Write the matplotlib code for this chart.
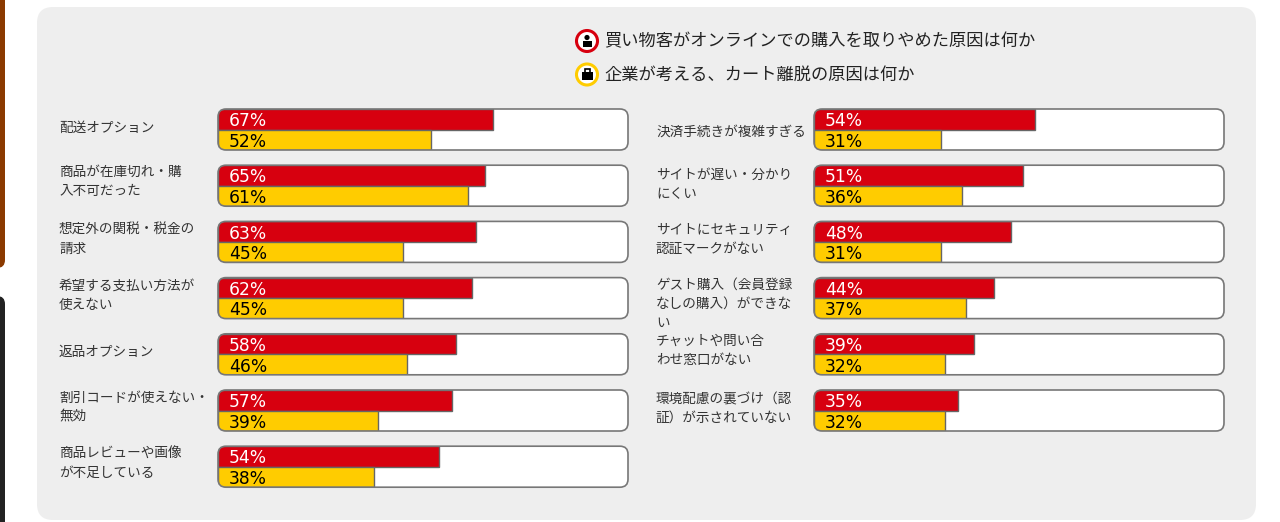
import matplotlib
matplotlib.use("Agg")
import matplotlib.pyplot as plt
from matplotlib.patches import FancyBboxPatch, Circle, Rectangle

plt.rcParams['font.family'] = ['Noto Sans CJK JP', 'DejaVu Sans']

# ---- data ----
left_labels = ["配送オプション", "商品が在庫切れ・購\n入不可だった", "想定外の関税・税金の\n請求",
               "希望する支払い方法が\n使えない", "返品オプション", "割引コードが使えない・\n無効",
               "商品レビューや画像\nが不足している"]
left_shopper = [67, 65, 63, 62, 58, 57, 54]
left_company = [52, 61, 45, 45, 46, 39, 38]

right_labels = ["決済手続きが複雑すぎる", "サイトが遅い・分かり\nにくい", "サイトにセキュリティ\n認証マークがない",
                "ゲスト購入（会員登録\nなしの購入）ができな\nい", "チャットや問い合\nわせ窓口がない",
                "環境配慮の裏づけ（認\n証）が示されていない"]
right_shopper = [54, 51, 48, 44, 39, 35]
right_company = [31, 36, 31, 37, 32, 32]

legend_labels = ["買い物客がオンラインでの購入を取りやめた原因は何か", "企業が考える、カート離脱の原因は何か"]

RED = '#D7000F'
YEL = '#FFCC00'
W, H = 1280, 522
fig = plt.figure(figsize=(W / 100, H / 100), dpi=100)
fig.patch.set_facecolor('white')

# background overlay in pixel coordinates
bg = fig.add_axes([0, 0, 1, 1], zorder=0)
bg.set_xlim(0, W)
bg.set_ylim(H, 0)
bg.axis('off')
bg.add_patch(FancyBboxPatch((37, 7), 1219, 513, boxstyle="round,pad=0,rounding_size=16",
                            facecolor='#EEEEEE', edgecolor='none'))
bg.add_patch(FancyBboxPatch((-20, -20), 25, 288, boxstyle="round,pad=0,rounding_size=8",
                            facecolor='#8B3A00', edgecolor='none'))
bg.add_patch(FancyBboxPatch((-20, 296), 25, 260, boxstyle="round,pad=0,rounding_size=8",
                            facecolor='#222222', edgecolor='none'))

# legend
for i, (lab, col) in enumerate(zip(legend_labels, [RED, YEL])):
    cy = 41 + i * 33.5
    bg.add_patch(Circle((587, cy), 10.5, facecolor='white', edgecolor=col, lw=2.2))
    if i == 0:
        bg.add_patch(Circle((587, cy - 3.5), 2.6, facecolor='black', edgecolor='none'))
        bg.add_patch(Rectangle((582.5, cy), 9, 6, facecolor='black', edgecolor='none'))
    else:
        bg.add_patch(Rectangle((581.5, cy - 2.5), 11, 8, facecolor='black', edgecolor='none'))
        bg.add_patch(Rectangle((584.5, cy - 5.5), 5, 3.5, facecolor='none', edgecolor='black', lw=1.2))
    bg.text(604, cy, lab, fontsize=12.4, color='#222222', va='center', ha='left')

# column axes
pitch = 56.2
row0_center = 129.5
top_px = row0_center - pitch / 2
nrows = 7
ax_h_px = pitch * nrows
bottom_frac = 1 - (top_px + ax_h_px) / H
h_frac = ax_h_px / H

box_h = 41 / pitch
rx = 8 / 4.1


def draw_column(x0_px, labels, shopper, company, label_x_px, label_offsets):
    ax = fig.add_axes([x0_px / W, bottom_frac, 410 / W, h_frac], zorder=1)
    ax.set_xlim(0, 100)
    ax.set_ylim(nrows - 0.5, -0.5)
    ax.axis('off')
    aspect = (410 / 100) / pitch
    for i, (lab, s, c) in enumerate(zip(labels, shopper, company)):
        top = i - box_h / 2
        fill = FancyBboxPatch((0, top), 100, box_h, boxstyle=f"round,pad=0,rounding_size={rx}",
                              mutation_aspect=aspect, facecolor='white', edgecolor='none', zorder=1)
        ax.add_patch(fill)
        bars = ax.barh([top + box_h / 4, top + 3 * box_h / 4], [s, c], height=box_h / 2,
                       left=0, color=[RED, YEL], edgecolor='#666666', linewidth=1.0, zorder=2)
        for b in bars:
            b.set_clip_path(fill)
        ax.add_patch(FancyBboxPatch((0, top), 100, box_h, boxstyle=f"round,pad=0,rounding_size={rx}",
                                    mutation_aspect=aspect, facecolor='none', edgecolor='#777777',
                                    linewidth=1.2, zorder=3, clip_on=False))
        ax.text(2.6, top + box_h / 4 + 0.035, f"{s}%", color='white', fontsize=12.3,
                family=['DejaVu Sans'], va='center', ha='left', zorder=4)
        ax.text(2.6, top + 3 * box_h / 4 + 0.035, f"{c}%", color='black', fontsize=12.3,
                family=['DejaVu Sans'], va='center', ha='left', zorder=4)
        lx = (label_x_px - x0_px) / 4.1
        ax.text(lx, i + label_offsets[i] / pitch, lab, fontsize=9.8, color='#333333',
                va='center', ha='left', linespacing=1.45, clip_on=False)
    return ax


draw_column(218, left_labels, left_shopper, left_company, 59, [-2, -4, -3, -3, -2, -3, -3])
draw_column(814, right_labels, right_shopper, right_company, 656, [2, -1, -2, 6, -4, -2])

fig.savefig('out.png', dpi=100, facecolor='white')
